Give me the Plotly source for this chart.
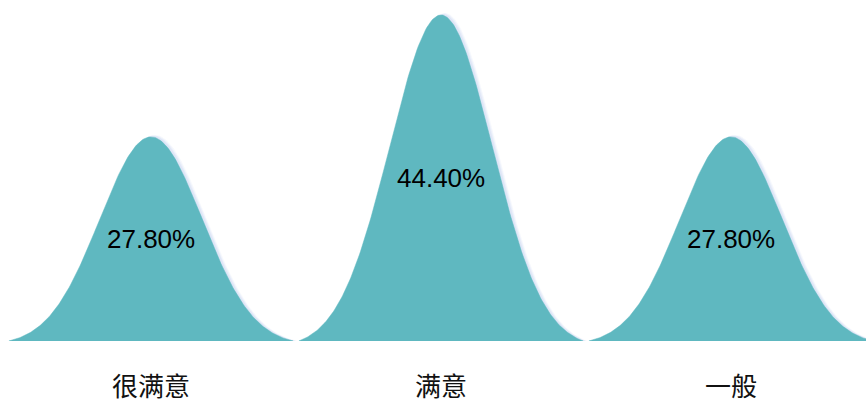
import numpy as np
import plotly.graph_objects as go

categories = ["很满意", "满意", "一般"]
values = [27.8, 44.4, 27.8]
value_labels = ["27.80%", "44.40%", "27.80%"]

FILL = "#5fb8c0"
W, H = 868, 401
ML, MR, MT, MB = 6, 2, 5, 60
plot_w = W - ML - MR
plot_h = H - MT - MB
px_per_unit_x = 290.0
x_max = -0.5 + plot_w / px_per_unit_x
# baseline at 341 px, peak of 44.4 at 15 px -> 326 px for 44.4
y_per_px = 44.4 / 326.0
y_max = plot_h * y_per_px

# bell-shaped symbol profile (shape only, scaled to each value)
s = 0.36
u = np.linspace(-1, 1, 241)
e0 = np.exp(-1 / (2 * s * s))
prof = (np.exp(-u * u / (2 * s * s)) - e0) / (1 - e0)
half = 0.49

fig = go.Figure()

for i, v in enumerate(values):
    xs = i + u * half
    ys = prof * v
    # soft bluish shadow, offset to the right
    for k, (dx, dy, a) in enumerate([(4, 2, 0.10), (3, 1.5, 0.14), (2, 1, 0.18)]):
        fig.add_trace(go.Scatter(
            x=np.concatenate([xs + dx / px_per_unit_x, [xs[0]]]),
            y=np.concatenate([ys + dy * y_per_px * prof, [0]]),
            fill="toself", mode="lines", line=dict(width=0),
            fillcolor=f"rgba(170,190,235,{a})", hoverinfo="skip", showlegend=False,
        ))
    fig.add_trace(go.Scatter(
        x=np.concatenate([xs, [xs[0]]]),
        y=np.concatenate([ys, [0]]),
        fill="toself", mode="lines", line=dict(width=0.5, color=FILL),
        fillcolor=FILL, hoverinfo="skip", showlegend=False,
    ))
    fig.add_annotation(x=i, y=v / 2, text=value_labels[i], showarrow=False,
                       font=dict(family="Liberation Sans, Arial", size=26, color="#000"),
                       xanchor="center", yanchor="middle")
    fig.add_annotation(x=i, y=0, text=categories[i], showarrow=False,
                       font=dict(family="Noto Sans CJK SC", size=26, color="#111"),
                       xanchor="center", yanchor="middle", yshift=-43)

fig.update_layout(
    width=W, height=H,
    margin=dict(l=ML, r=MR, t=MT, b=MB),
    paper_bgcolor="white", plot_bgcolor="white",
    xaxis=dict(range=[-0.5, x_max], visible=False, fixedrange=True),
    yaxis=dict(range=[0, y_max], visible=False, fixedrange=True),
    showlegend=False,
)

fig.write_html("out.html", config={"displayModeBar": False},
               post_script="document.body.style.margin='0';document.body.style.overflow='hidden';")
